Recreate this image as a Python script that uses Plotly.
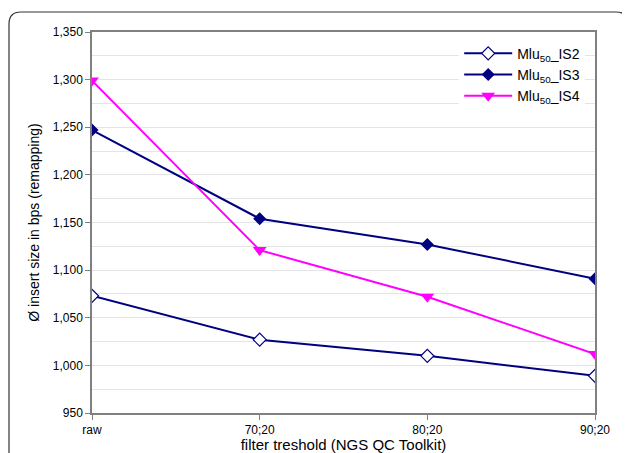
import plotly.graph_objects as go

categories = ["raw", "70;20", "80;20", "90;20"]
is2 = [1073, 1027, 1010, 989]
is3 = [1247, 1154, 1127, 1091]
is4 = [1299, 1121, 1072, 1012]
names = ["Mlu<sub>50</sub>_IS2", "Mlu<sub>50</sub>_IS3", "Mlu<sub>50</sub>_IS4"]
y_ticks = list(range(950, 1351, 50))

# page body has an 8px margin, so the figure is sized to fit the window
OFF = 8
W, H = 630 - OFF, 453 - OFF
L, R, T, B = 92 - OFF, 35, 32 - OFF, 40
pw, ph = W - L - R, H - T - B

fig = go.Figure()
fig.add_trace(go.Scatter(x=categories, y=is2, name=names[0], mode="lines+markers",
                         line=dict(color="#000080", width=2),
                         marker=dict(symbol="diamond", size=10, color="white",
                                     line=dict(color="#000080", width=1.2))))
fig.add_trace(go.Scatter(x=categories, y=is3, name=names[1], mode="lines+markers",
                         line=dict(color="#000080", width=2),
                         marker=dict(symbol="diamond", size=10, color="#000080")))
fig.add_trace(go.Scatter(x=categories, y=is4, name=names[2], mode="lines+markers",
                         line=dict(color="#FF00FF", width=2),
                         marker=dict(symbol="triangle-down", size=12, color="#FF00FF")))

def px(x):
    return (x - OFF - L) / pw

def py(y):
    return (H - B - (y - OFF)) / ph

x0, x1, y0, y1, r = 9, 628, 12, 500, 12
path = (f"M {px(x0)},{py(y0 + r)} "
        f"Q {px(x0)},{py(y0)} {px(x0 + r)},{py(y0)} "
        f"L {px(x1 - r)},{py(y0)} "
        f"Q {px(x1)},{py(y0)} {px(x1)},{py(y0 + r)} "
        f"L {px(x1)},{py(y1)} L {px(x0)},{py(y1)} Z")
fig.add_shape(type="path", xref="paper", yref="paper", path=path,
              line=dict(color="#333333", width=1.2), fillcolor="rgba(0,0,0,0)", layer="below")

fig.update_layout(
    width=W, height=H,
    margin=dict(l=L, r=R, t=T, b=B, autoexpand=False),
    paper_bgcolor="white", plot_bgcolor="white",
    font=dict(family="Liberation Sans, Arial, sans-serif", color="#000000", size=12),
    showlegend=True,
    legend=dict(x=0.73, y=0.985, xanchor="left", yanchor="top",
                bgcolor="white", borderwidth=0, itemwidth=48,
                font=dict(size=14), tracegroupgap=0),
    xaxis=dict(type="category", range=[0, 3], automargin=False,
               showline=True, linecolor="#808080", linewidth=1.5,
               mirror=True, ticks="outside", ticklen=5, tickcolor="#808080",
               showgrid=False, zeroline=False,
               title=dict(text="filter treshold (NGS QC Toolkit)", font=dict(size=15), standoff=18),
               tickfont=dict(size=12)),
    yaxis=dict(range=[950, 1350], tickvals=y_ticks, tickformat=",d", automargin=False,
               showline=True, linecolor="#808080", linewidth=1.5, mirror=True,
               ticks="outside", ticklen=5, tickcolor="#808080",
               showgrid=True, gridcolor="#e4e4e4", gridwidth=1, zeroline=False,
               minor=dict(dtick=25, tick0=950, showgrid=True, gridcolor="#e4e4e4", ticks=""),
               title=dict(text="Ø insert size in bps (remapping)", font=dict(size=14), standoff=10),
               tickfont=dict(size=12)),
)

fig.write_html("out.html")
